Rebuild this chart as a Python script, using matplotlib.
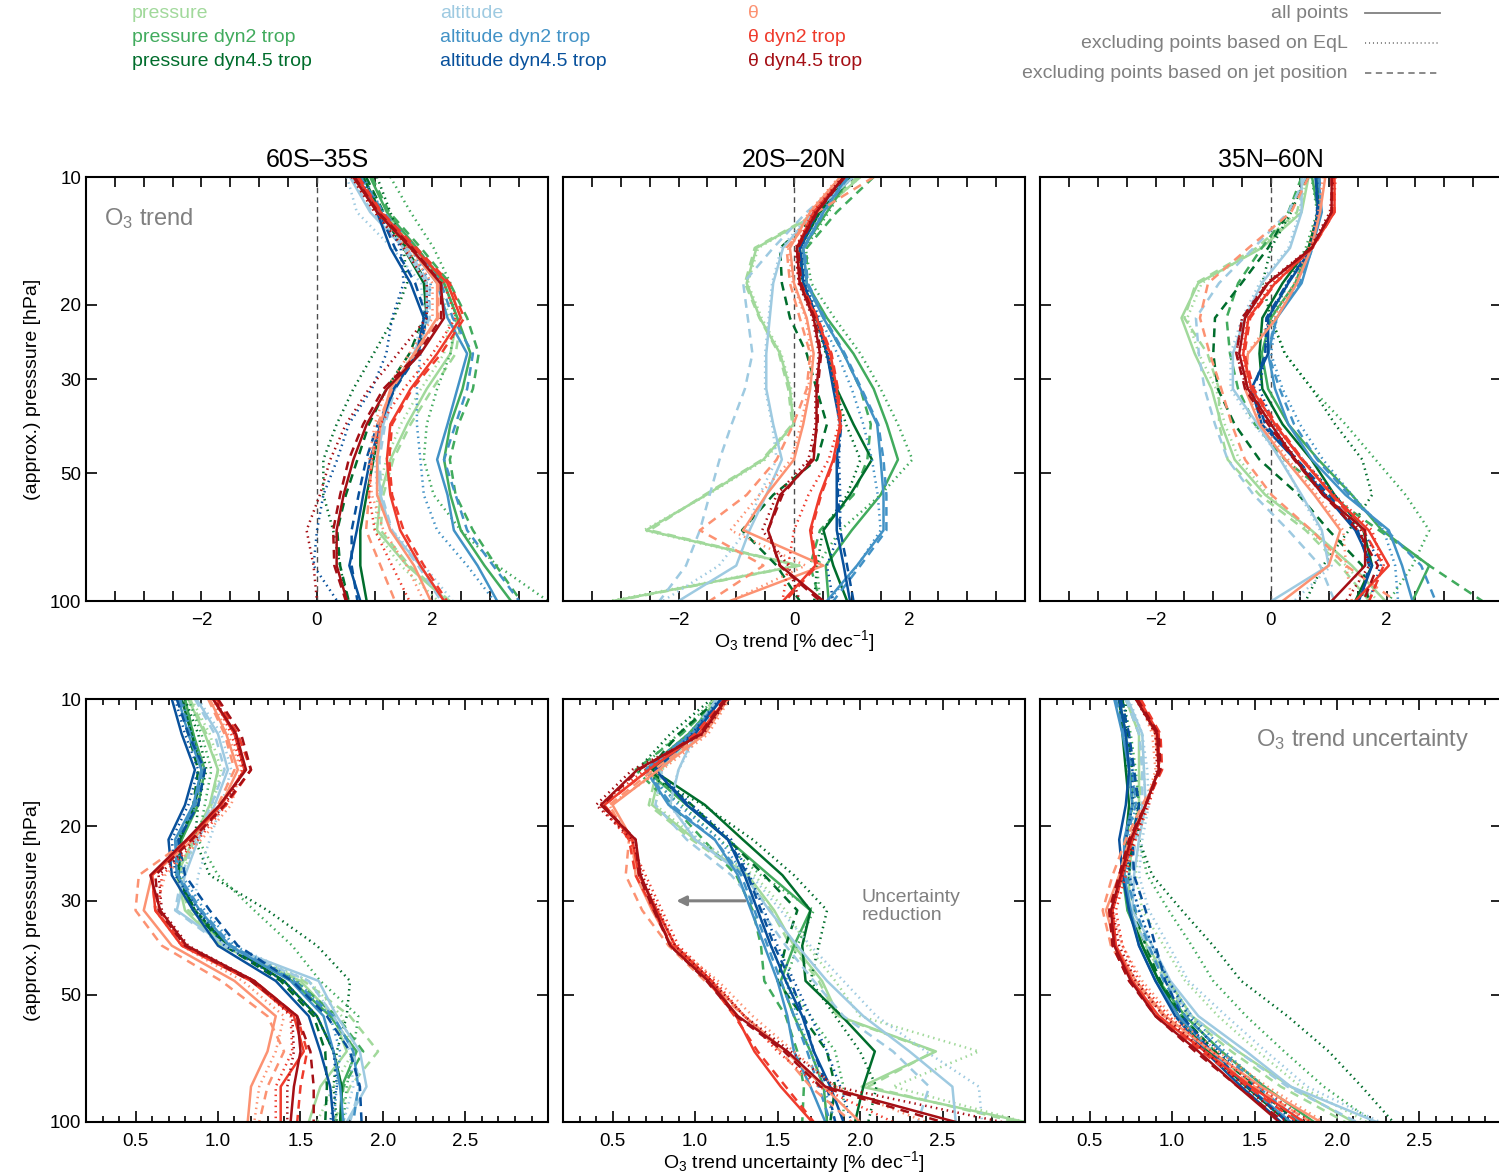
import numpy as np
import matplotlib.pyplot as plt
from matplotlib.lines import Line2D
from matplotlib.ticker import FixedLocator, MultipleLocator, NullLocator

plt.rcParams['font.family'] = ['Liberation Sans', 'DejaVu Sans']
plt.rcParams['mathtext.fontset'] = 'custom'
plt.rcParams['mathtext.rm'] = 'Liberation Sans'
plt.rcParams['mathtext.it'] = 'Liberation Sans:italic'
plt.rcParams['mathtext.bf'] = 'Liberation Sans:bold'

# approx. pressure levels [hPa]
pres = [10.0, 12.1, 14.7, 17.8, 21.5, 26.1, 31.6, 38.3, 46.4, 56.2, 68.1, 82.5, 100.0]

regions = ['60S\u201335S', '20S\u201320N', '35N\u201360N']
variables = ['p', 'p2', 'p45', 'z', 'z2', 'z45', 't', 't2', 't45']
var_labels = ['pressure', 'pressure dyn2 trop', 'pressure dyn4.5 trop',
              'altitude', 'altitude dyn2 trop', 'altitude dyn4.5 trop',
              '\u03b8', '\u03b8 dyn2 trop', '\u03b8 dyn4.5 trop']
var_colors = ['#a1d99b', '#41ab5d', '#006d2c',
              '#9ecae1', '#4292c6', '#08519c',
              '#fc9272', '#ef3b2c', '#a50f15']
styles = ['all', 'eql', 'jet']
style_labels = ['all points', 'excluding points based on EqL',
                'excluding points based on jet position']

# O3 trend [% dec-1], 60S-35S
trend_sh = {
    'p_all':   [0.80, 1.10, 1.68, 2.20, 2.43, 2.31, 1.90, 1.56, 1.27, 1.10, 1.04, 1.56, 2.26],
    'p_eql':   [0.75, 1.05, 1.60, 2.10, 2.30, 2.20, 1.80, 1.45, 1.20, 1.05, 1.00, 1.45, 2.10],
    'p_jet':   [0.85, 1.15, 1.72, 2.25, 2.50, 2.40, 2.00, 1.62, 1.32, 1.15, 1.10, 1.60, 2.30],
    'p2_all':  [0.92, 1.21, 1.73, 2.20, 2.43, 2.66, 2.52, 2.31, 2.20, 2.31, 2.49, 2.90, 3.36],
    'p2_eql':  [1.27, 1.62, 2.02, 2.31, 2.40, 2.31, 2.08, 1.90, 1.85, 2.02, 2.49, 3.12, 4.00],
    'p2_jet':  [0.95, 1.25, 1.80, 2.30, 2.60, 2.80, 2.70, 2.45, 2.30, 2.40, 2.70, 3.10, 3.53],
    'p45_all': [0.80, 1.10, 1.50, 1.85, 1.90, 1.73, 1.33, 1.10, 0.98, 0.86, 0.75, 0.75, 0.86],
    'p45_eql': [1.04, 1.27, 1.50, 1.56, 1.33, 0.98, 0.63, 0.34, 0.11, 0.11, 0.28, 0.40, 0.52],
    'p45_jet': [0.85, 1.15, 1.55, 1.90, 1.85, 1.60, 1.20, 0.90, 0.70, 0.50, 0.35, 0.40, 0.55],
    'z_all':   [0.57, 0.92, 1.50, 1.90, 1.90, 1.68, 1.33, 1.15, 1.04, 1.10, 1.27, 1.79, 2.20],
    'z_eql':   [0.52, 0.69, 1.30, 1.80, 1.85, 1.65, 1.30, 1.10, 1.00, 1.05, 1.30, 1.85, 2.35],
    'z_jet':   [0.60, 0.95, 1.55, 1.95, 1.95, 1.70, 1.35, 1.18, 1.08, 1.12, 1.30, 1.75, 2.15],
    'z2_all':  [0.69, 1.10, 1.62, 2.08, 2.26, 2.60, 2.43, 2.26, 2.08, 2.26, 2.37, 2.78, 3.12],
    'z2_eql':  [0.80, 1.15, 1.62, 1.97, 1.90, 1.79, 1.73, 1.73, 1.79, 1.85, 2.08, 2.60, 3.07],
    'z2_jet':  [0.75, 1.15, 1.70, 2.15, 2.35, 2.70, 2.60, 2.40, 2.20, 2.40, 2.60, 3.05, 3.50],
    'z45_all': [0.69, 1.04, 1.27, 1.62, 1.85, 1.73, 1.33, 1.10, 0.92, 0.80, 0.69, 0.56, 0.75],
    'z45_eql': [0.75, 1.10, 1.45, 1.50, 1.30, 1.20, 0.95, 0.55, 0.35, 0.11, 0.00, -0.06, 0.35],
    'z45_jet': [0.72, 1.08, 1.35, 1.70, 1.90, 1.75, 1.35, 1.05, 0.85, 0.72, 0.60, 0.60, 0.70],
    't_all':   [0.63, 1.04, 1.62, 2.08, 2.08, 1.68, 1.27, 1.10, 1.04, 1.04, 1.27, 1.68, 1.97],
    't_eql':   [0.60, 1.00, 1.55, 2.00, 2.00, 1.60, 1.20, 1.00, 0.90, 0.95, 1.15, 1.55, 1.85],
    't_jet':   [0.65, 1.05, 1.65, 2.10, 2.10, 1.70, 1.30, 1.05, 0.95, 0.90, 0.85, 1.10, 1.35],
    't2_all':  [0.69, 1.10, 1.68, 2.26, 2.49, 2.08, 1.62, 1.27, 1.21, 1.27, 1.44, 1.79, 2.20],
    't2_eql':  [0.65, 1.05, 1.60, 2.20, 2.40, 2.00, 1.50, 1.10, 0.95, 0.90, 1.00, 1.30, 1.60],
    't2_jet':  [0.72, 1.12, 1.72, 2.30, 2.55, 2.15, 1.65, 1.30, 1.25, 1.30, 1.50, 1.85, 2.25],
    't45_all': [0.63, 1.04, 1.62, 2.14, 2.20, 1.79, 1.21, 0.86, 0.63, 0.46, 0.34, 0.34, 0.52],
    't45_eql': [0.60, 1.00, 1.50, 1.90, 1.90, 1.40, 0.90, 0.50, 0.23, 0.05, -0.18, -0.06, 0.00],
    't45_jet': [0.65, 1.06, 1.65, 2.15, 2.15, 1.75, 1.15, 0.80, 0.55, 0.40, 0.28, 0.30, 0.50],
}

# O3 trend [% dec-1], 20S-20N
trend_tr = {
    'p_all':   [1.15, 0.45, -0.65, -0.82, -0.59, -0.24, -0.07, -0.01, -0.53, -1.52, -2.56, 0.08, -3.14],
    'p_eql':   [1.15, 0.45, -0.62, -0.80, -0.56, -0.22, -0.05, 0.00, -0.50, -1.50, -2.60, 0.05, -3.20],
    'p_jet':   [1.10, 0.42, -0.68, -0.85, -0.60, -0.26, -0.10, -0.03, -0.55, -1.55, -2.50, 0.10, -3.10],
    'p2_all':  [0.97, 0.57, 0.16, 0.22, 0.57, 1.03, 1.38, 1.61, 1.80, 1.50, 1.00, 0.55, 0.60],
    'p2_eql':  [0.98, 0.60, 0.20, 0.30, 0.70, 1.15, 1.50, 1.80, 2.05, 1.50, 0.80, 0.40, 0.45],
    'p2_jet':  [1.38, 0.74, 0.22, 0.22, 0.51, 0.86, 1.15, 1.33, 1.27, 1.03, 0.45, 0.28, 0.45],
    'p45_all': [0.92, 0.45, 0.10, 0.16, 0.39, 0.57, 0.74, 1.03, 1.35, 0.97, 0.51, 0.68, 0.92],
    'p45_eql': [0.90, 0.43, 0.08, 0.14, 0.37, 0.55, 0.72, 0.90, 1.15, 0.92, 0.50, 0.40, 0.35],
    'p45_jet': [1.00, 0.45, -0.24, -0.21, -0.07, 0.22, 0.39, 0.57, 0.40, -0.36, -0.90, -0.30, 0.10],
    'z_all':   [1.03, 0.34, -0.19, -0.36, -0.42, -0.48, -0.48, -0.36, -0.21, -0.48, -0.77, -1.00, -2.00],
    'z_eql':   [1.00, 0.30, -0.22, -0.38, -0.44, -0.50, -0.50, -0.38, -0.30, -0.60, -0.82, -1.30, -2.27],
    'z_jet':   [0.92, 0.22, -0.36, -0.88, -0.80, -0.72, -0.85, -1.08, -1.29, -1.46, -1.63, -1.87, -2.33],
    'z2_all':  [0.92, 0.51, 0.16, 0.22, 0.51, 0.86, 1.15, 1.44, 1.50, 1.55, 1.55, 1.09, 0.57],
    'z2_eql':  [0.90, 0.48, 0.14, 0.20, 0.45, 0.75, 1.00, 1.20, 1.35, 1.45, 1.50, 1.10, 0.60],
    'z2_jet':  [0.94, 0.52, 0.18, 0.24, 0.53, 0.88, 1.17, 1.46, 1.55, 1.60, 1.60, 1.15, 0.68],
    'z45_all': [0.86, 0.39, 0.10, 0.16, 0.39, 0.57, 0.68, 0.80, 0.74, 0.74, 0.74, 0.86, 0.97],
    'z45_eql': [0.86, 0.40, 0.12, 0.18, 0.42, 0.60, 0.72, 0.80, 0.78, 0.80, 0.80, 0.57, 0.68],
    'z45_jet': [0.87, 0.40, 0.11, 0.17, 0.40, 0.58, 0.70, 0.82, 0.76, 0.76, 0.80, 0.92, 1.03],
    't_all':   [0.80, 0.28, -0.07, 0.00, 0.22, 0.34, 0.28, 0.16, 0.00, -0.48, -0.88, 0.51, -1.11],
    't_eql':   [0.78, 0.26, -0.10, -0.02, 0.20, 0.30, 0.25, 0.12, -0.05, -0.60, -1.10, 0.20, -1.10],
    't_jet':   [1.38, 0.40, -0.13, -0.07, 0.10, 0.28, 0.22, -0.01, -0.30, -0.82, -1.63, -0.53, -1.46],
    't2_all':  [0.86, 0.34, 0.05, 0.10, 0.39, 0.63, 0.74, 0.80, 0.68, 0.45, 0.28, 0.37, -0.19],
    't2_eql':  [0.84, 0.32, 0.03, 0.08, 0.37, 0.60, 0.72, 0.78, 0.60, 0.25, 0.00, -0.10, -0.20],
    't2_jet':  [0.88, 0.36, 0.07, 0.12, 0.41, 0.65, 0.76, 0.82, 0.70, 0.47, 0.30, 0.40, -0.15],
    't45_all': [0.86, 0.39, 0.05, 0.10, 0.34, 0.45, 0.39, 0.39, 0.34, -0.24, -0.45, -0.24, 0.51],
    't45_eql': [0.84, 0.37, 0.03, 0.08, 0.32, 0.43, 0.37, 0.37, 0.25, -0.30, -0.55, -0.10, 0.10],
    't45_jet': [0.88, 0.40, 0.07, 0.12, 0.36, 0.47, 0.41, 0.41, 0.30, -0.20, -0.45, -0.25, 0.45],
}

# O3 trend [% dec-1], 35N-60N
trend_nh = {
    'p_all':   [0.65, 0.53, -0.16, -1.26, -1.55, -1.32, -1.03, -0.86, -0.63, -0.10, 0.70, 1.40, 1.98],
    'p_eql':   [0.62, 0.50, -0.20, -1.20, -1.45, -1.25, -0.95, -0.80, -0.55, -0.05, 0.65, 1.30, 1.85],
    'p_jet':   [0.60, 0.45, -0.25, -1.30, -1.50, -1.10, -0.90, -0.90, -0.75, -0.20, 0.60, 1.20, 1.70],
    'p2_all':  [0.71, 0.82, 0.65, 0.42, 0.00, -0.16, -0.05, 0.30, 0.82, 1.40, 1.92, 2.74, 2.45],
    'p2_eql':  [0.70, 0.80, 0.60, 0.30, 0.00, 0.24, 0.71, 1.29, 1.81, 2.33, 2.74, 2.45, 2.04],
    'p2_jet':  [0.53, 0.30, -0.16, -0.57, -0.77, -0.71, -0.57, -0.28, 0.24, 1.00, 1.87, 2.74, 3.66],
    'p45_all': [0.82, 0.82, 0.65, 0.20, -0.15, -0.20, -0.15, 0.20, 0.70, 1.10, 1.60, 1.75, 1.46],
    'p45_eql': [0.60, 0.35, 0.00, -0.15, 0.00, 0.24, 0.71, 1.11, 1.58, 1.75, 1.35, 0.90, 0.60],
    'p45_jet': [0.65, 0.30, -0.05, -0.51, -0.97, -1.00, -0.92, -0.63, -0.20, 0.48, 1.00, 1.58, 1.69],
    'z_all':   [0.53, 0.53, 0.33, -0.16, -0.45, -0.66, -0.66, -0.23, 0.16, 0.53, 0.88, 1.00, 0.01],
    'z_eql':   [0.55, 0.50, 0.30, -0.20, -0.50, -0.70, -0.70, -0.30, 0.20, 0.50, 0.85, 1.05, 0.40],
    'z_jet':   [0.60, 0.30, -0.30, -0.90, -1.30, -1.25, -1.15, -0.97, -0.75, -0.30, 0.30, 0.85, 1.10],
    'z2_all':  [0.82, 0.88, 0.71, 0.53, 0.10, -0.05, 0.07, 0.30, 0.71, 1.29, 2.04, 2.27, 2.45],
    'z2_eql':  [0.80, 0.85, 0.70, 0.45, 0.10, 0.00, 0.20, 0.50, 0.90, 1.40, 1.95, 2.15, 2.20],
    'z2_jet':  [0.84, 0.86, 0.72, 0.50, 0.08, -0.05, 0.15, 0.40, 0.80, 1.35, 2.00, 2.60, 2.85],
    'z45_all': [0.77, 0.82, 0.71, 0.30, -0.05, -0.05, -0.34, -0.16, 0.42, 0.94, 1.46, 1.75, 1.52],
    'z45_eql': [0.80, 0.80, 0.68, 0.28, -0.05, -0.10, -0.20, 0.05, 0.55, 1.10, 1.60, 1.90, 1.70],
    'z45_jet': [0.78, 0.80, 0.70, 0.28, -0.08, -0.10, -0.30, -0.10, 0.45, 1.00, 1.50, 1.70, 1.55],
    't_all':   [0.94, 0.85, 0.70, 0.45, 0.10, -0.40, -0.45, -0.20, 0.25, 0.75, 1.20, 1.00, 0.20],
    't_eql':   [0.90, 0.82, 0.65, 0.40, 0.05, -0.42, -0.45, -0.15, 0.30, 0.80, 1.25, 1.30, 1.40],
    't_jet':   [0.65, 0.35, -0.39, -1.09, -1.23, -1.06, -0.86, -0.68, -0.45, 0.01, 0.70, 1.30, 2.16],
    't2_all':  [1.10, 1.10, 0.71, 0.07, -0.39, -0.48, -0.34, 0.07, 0.53, 1.06, 1.69, 2.04, 1.46],
    't2_eql':  [1.12, 1.08, 0.68, 0.03, -0.40, -0.50, -0.36, 0.05, 0.55, 1.10, 1.75, 1.95, 1.70],
    't2_jet':  [1.08, 1.10, 0.72, 0.08, -0.36, -0.46, -0.30, 0.10, 0.55, 1.05, 1.60, 1.95, 1.70],
    't45_all': [1.05, 1.05, 0.71, -0.05, -0.45, -0.55, -0.40, 0.00, 0.42, 0.90, 1.63, 1.63, 1.05],
    't45_eql': [1.08, 1.02, 0.68, -0.08, -0.50, -0.60, -0.42, 0.00, 0.45, 0.95, 1.55, 1.70, 1.30],
    't45_jet': [1.05, 1.05, 0.70, -0.06, -0.50, -0.60, -0.45, -0.05, 0.40, 0.90, 1.50, 1.85, 1.60],
}

# O3 trend uncertainty [% dec-1], 60S-35S
unc_sh = {
    'p_all':   [0.82, 0.92, 1.00, 0.95, 0.85, 0.75, 0.80, 1.02, 1.50, 1.70, 1.78, 1.62, 1.55],
    'p_eql':   [0.84, 0.95, 1.02, 0.97, 0.87, 0.78, 0.84, 1.05, 1.55, 1.75, 1.82, 1.70, 1.60],
    'p_jet':   [0.83, 0.93, 1.00, 0.96, 0.86, 0.76, 0.82, 1.04, 1.52, 1.80, 1.97, 1.80, 1.70],
    'p2_all':  [0.80, 0.85, 0.92, 0.88, 0.78, 0.76, 0.85, 1.05, 1.45, 1.68, 1.84, 1.75, 1.75],
    'p2_eql':  [0.82, 0.90, 0.96, 0.92, 0.88, 1.00, 1.22, 1.45, 1.62, 1.85, 1.82, 1.78, 1.76],
    'p2_jet':  [0.80, 0.85, 0.90, 0.86, 0.78, 0.76, 0.86, 1.07, 1.47, 1.72, 1.88, 1.76, 1.74],
    'p45_all': [0.78, 0.84, 0.90, 0.86, 0.77, 0.76, 0.86, 1.06, 1.40, 1.60, 1.70, 1.75, 1.74],
    'p45_eql': [0.80, 0.88, 0.93, 0.88, 0.86, 0.95, 1.30, 1.60, 1.80, 1.78, 1.72, 1.70, 1.72],
    'p45_jet': [0.76, 0.82, 0.88, 0.85, 0.76, 0.75, 0.85, 1.04, 1.38, 1.58, 1.65, 1.66, 1.65],
    'z_all':   [0.87, 1.00, 1.06, 0.98, 0.88, 0.80, 0.75, 1.05, 1.61, 1.72, 1.86, 1.90, 1.78],
    'z_eql':   [0.88, 1.02, 1.08, 1.02, 0.95, 0.88, 0.85, 1.10, 1.55, 1.70, 1.80, 1.82, 1.76],
    'z_jet':   [0.86, 0.98, 1.04, 0.96, 0.86, 0.78, 0.74, 1.03, 1.55, 1.70, 1.82, 1.86, 1.80],
    'z2_all':  [0.76, 0.82, 0.90, 0.85, 0.74, 0.75, 0.89, 1.07, 1.44, 1.64, 1.70, 1.74, 1.76],
    'z2_eql':  [0.78, 0.84, 0.92, 0.87, 0.76, 0.78, 0.92, 1.10, 1.48, 1.68, 1.74, 1.72, 1.70],
    'z2_jet':  [0.77, 0.83, 0.91, 0.86, 0.75, 0.76, 0.90, 1.08, 1.46, 1.70, 1.82, 1.85, 1.82],
    'z45_all': [0.72, 0.78, 0.86, 0.80, 0.70, 0.72, 0.85, 1.00, 1.35, 1.55, 1.62, 1.68, 1.70],
    'z45_eql': [0.74, 0.80, 0.88, 0.82, 0.72, 0.74, 0.88, 1.04, 1.40, 1.60, 1.70, 1.72, 1.68],
    'z45_jet': [0.75, 0.82, 0.92, 0.88, 0.76, 0.80, 0.95, 1.12, 1.45, 1.66, 1.80, 1.86, 1.87],
    't_all':   [0.95, 1.05, 1.12, 1.02, 0.85, 0.60, 0.55, 0.72, 1.10, 1.35, 1.30, 1.20, 1.18],
    't_eql':   [0.96, 1.06, 1.14, 1.08, 0.90, 0.68, 0.62, 0.78, 1.15, 1.40, 1.35, 1.25, 1.22],
    't_jet':   [0.94, 1.04, 1.10, 1.00, 0.82, 0.52, 0.50, 0.66, 1.02, 1.30, 1.40, 1.30, 1.25],
    't2_all':  [0.97, 1.10, 1.16, 1.02, 0.82, 0.60, 0.62, 0.78, 1.20, 1.46, 1.52, 1.38, 1.38],
    't2_eql':  [0.98, 1.08, 1.15, 1.05, 0.88, 0.66, 0.64, 0.80, 1.22, 1.44, 1.45, 1.35, 1.35],
    't2_jet':  [0.99, 1.12, 1.20, 1.05, 0.84, 0.60, 0.62, 0.80, 1.22, 1.48, 1.54, 1.50, 1.48],
    't45_all': [0.97, 1.11, 1.17, 1.01, 0.81, 0.59, 0.65, 0.81, 1.22, 1.48, 1.50, 1.46, 1.44],
    't45_eql': [0.98, 1.10, 1.16, 1.04, 0.86, 0.64, 0.66, 0.82, 1.22, 1.45, 1.46, 1.42, 1.42],
    't45_jet': [1.00, 1.14, 1.20, 1.04, 0.84, 0.62, 0.64, 0.80, 1.20, 1.48, 1.56, 1.58, 1.58],
}

# O3 trend uncertainty [% dec-1], 20S-20N
unc_tr = {
    'p_all':   [1.12, 1.00, 0.79, 0.74, 1.00, 1.32, 1.48, 1.60, 1.77, 1.87, 2.46, 2.01, 3.00],
    'p_eql':   [1.13, 1.02, 0.80, 0.76, 1.02, 1.36, 1.55, 1.68, 1.85, 2.00, 2.72, 2.20, 3.00],
    'p_jet':   [1.11, 0.98, 0.77, 0.72, 0.98, 1.30, 1.46, 1.58, 1.75, 1.86, 2.45, 2.05, 2.95],
    'p2_all':  [1.15, 0.96, 0.70, 0.95, 1.20, 1.45, 1.70, 1.60, 1.52, 1.60, 1.70, 1.78, 1.80],
    'p2_eql':  [1.12, 0.90, 0.66, 0.92, 1.15, 1.40, 1.72, 1.62, 1.55, 1.70, 1.85, 1.90, 1.90],
    'p2_jet':  [1.14, 0.92, 0.64, 0.86, 1.05, 1.25, 1.35, 1.40, 1.42, 1.55, 1.62, 1.66, 1.65],
    'p45_all': [1.16, 0.98, 0.74, 1.06, 1.29, 1.53, 1.70, 1.65, 1.67, 1.89, 2.09, 2.02, 1.97],
    'p45_eql': [1.10, 0.85, 0.65, 1.05, 1.35, 1.60, 1.80, 1.75, 1.70, 1.85, 2.00, 2.10, 2.05],
    'p45_jet': [1.14, 0.90, 0.72, 0.98, 1.20, 1.42, 1.62, 1.55, 1.50, 1.65, 1.80, 1.85, 1.82],
    'z_all':   [1.14, 1.00, 0.90, 0.85, 1.00, 1.30, 1.45, 1.62, 1.80, 2.02, 2.30, 2.56, 2.58],
    'z_eql':   [1.15, 1.02, 0.90, 0.84, 1.02, 1.34, 1.52, 1.70, 1.90, 2.10, 2.40, 2.72, 2.74],
    'z_jet':   [1.13, 0.98, 0.80, 0.76, 0.95, 1.22, 1.40, 1.55, 1.72, 1.90, 2.20, 2.42, 2.35],
    'z2_all':  [1.16, 0.98, 0.70, 0.84, 1.12, 1.26, 1.34, 1.42, 1.50, 1.56, 1.60, 1.70, 1.79],
    'z2_eql':  [1.15, 0.96, 0.70, 0.90, 1.15, 1.30, 1.38, 1.46, 1.55, 1.62, 1.70, 1.78, 1.85],
    'z2_jet':  [1.16, 0.97, 0.70, 0.86, 1.12, 1.28, 1.36, 1.44, 1.52, 1.60, 1.68, 1.75, 1.82],
    'z45_all': [1.16, 1.00, 0.76, 0.95, 1.20, 1.30, 1.38, 1.46, 1.55, 1.65, 1.72, 1.82, 1.90],
    'z45_eql': [1.15, 0.98, 0.76, 0.98, 1.22, 1.33, 1.42, 1.50, 1.60, 1.70, 1.80, 1.88, 1.95],
    'z45_jet': [1.16, 0.99, 0.76, 0.96, 1.20, 1.32, 1.40, 1.48, 1.58, 1.66, 1.72, 1.80, 1.85],
    't_all':   [1.20, 1.06, 0.78, 0.50, 0.62, 0.64, 0.74, 0.86, 1.10, 1.30, 1.55, 1.78, 2.00],
    't_eql':   [1.21, 1.08, 0.80, 0.48, 0.60, 0.66, 0.78, 0.88, 1.14, 1.35, 1.60, 1.85, 2.40],
    't_jet':   [1.19, 1.05, 0.75, 0.48, 0.60, 0.58, 0.68, 0.84, 1.06, 1.30, 1.52, 1.70, 1.95],
    't2_all':  [1.19, 1.02, 0.72, 0.45, 0.62, 0.66, 0.77, 0.88, 1.10, 1.25, 1.36, 1.52, 1.71],
    't2_eql':  [1.20, 1.04, 0.70, 0.42, 0.60, 0.70, 0.80, 0.90, 1.12, 1.30, 1.50, 1.75, 2.20],
    't2_jet':  [1.18, 1.00, 0.72, 0.45, 0.60, 0.64, 0.75, 0.86, 1.08, 1.24, 1.38, 1.55, 1.72],
    't45_all': [1.19, 1.04, 0.65, 0.43, 0.64, 0.67, 0.76, 0.85, 1.08, 1.26, 1.56, 1.79, 2.58],
    't45_eql': [1.20, 1.05, 0.62, 0.40, 0.62, 0.68, 0.78, 0.88, 1.10, 1.30, 1.58, 1.85, 2.86],
    't45_jet': [1.18, 1.03, 0.66, 0.44, 0.64, 0.66, 0.75, 0.85, 1.07, 1.25, 1.54, 1.76, 2.50],
}

# O3 trend uncertainty [% dec-1], 35N-60N
unc_nh = {
    'p_all':   [0.72, 0.80, 0.80, 0.80, 0.76, 0.74, 0.74, 0.85, 0.98, 1.12, 1.40, 1.72, 2.10],
    'p_eql':   [0.73, 0.82, 0.83, 0.84, 0.80, 0.78, 0.82, 0.95, 1.08, 1.28, 1.52, 1.78, 2.18],
    'p_jet':   [0.72, 0.80, 0.82, 0.80, 0.75, 0.72, 0.73, 0.84, 0.96, 1.10, 1.36, 1.66, 2.05],
    'p2_all':  [0.68, 0.72, 0.74, 0.76, 0.72, 0.70, 0.73, 0.82, 0.92, 1.08, 1.30, 1.56, 1.86],
    'p2_eql':  [0.70, 0.75, 0.78, 0.80, 0.80, 0.85, 0.98, 1.12, 1.25, 1.45, 1.68, 1.92, 2.22],
    'p2_jet':  [0.68, 0.72, 0.75, 0.76, 0.72, 0.70, 0.74, 0.82, 0.92, 1.06, 1.26, 1.50, 1.78],
    'p45_all': [0.68, 0.70, 0.72, 0.74, 0.72, 0.71, 0.74, 0.82, 0.92, 1.04, 1.22, 1.45, 1.70],
    'p45_eql': [0.72, 0.72, 0.72, 0.78, 0.80, 0.88, 1.06, 1.25, 1.42, 1.70, 1.95, 2.15, 2.34],
    'p45_jet': [0.70, 0.73, 0.76, 0.80, 0.76, 0.74, 0.77, 0.84, 0.93, 1.06, 1.26, 1.50, 1.76],
    'z_all':   [0.73, 0.82, 0.83, 0.84, 0.80, 0.77, 0.76, 0.88, 0.99, 1.16, 1.45, 1.72, 2.24],
    'z_eql':   [0.74, 0.82, 0.85, 0.86, 0.82, 0.80, 0.86, 0.98, 1.10, 1.33, 1.57, 1.82, 2.26],
    'z_jet':   [0.72, 0.80, 0.82, 0.82, 0.78, 0.75, 0.74, 0.85, 0.96, 1.12, 1.40, 1.70, 2.12],
    'z2_all':  [0.65, 0.70, 0.74, 0.76, 0.71, 0.71, 0.75, 0.80, 0.90, 1.04, 1.24, 1.46, 1.72],
    'z2_eql':  [0.67, 0.72, 0.76, 0.78, 0.74, 0.74, 0.80, 0.88, 0.98, 1.12, 1.32, 1.55, 1.80],
    'z2_jet':  [0.66, 0.71, 0.76, 0.78, 0.72, 0.72, 0.78, 0.86, 0.95, 1.08, 1.30, 1.52, 1.78],
    'z45_all': [0.68, 0.72, 0.74, 0.72, 0.68, 0.70, 0.74, 0.80, 0.90, 1.02, 1.20, 1.42, 1.66],
    'z45_eql': [0.70, 0.74, 0.76, 0.76, 0.72, 0.74, 0.80, 0.88, 0.98, 1.10, 1.28, 1.50, 1.74],
    'z45_jet': [0.69, 0.74, 0.77, 0.80, 0.76, 0.77, 0.84, 0.90, 0.96, 1.06, 1.24, 1.46, 1.70],
    't_all':   [0.80, 0.90, 0.92, 0.84, 0.74, 0.68, 0.60, 0.66, 0.78, 0.96, 1.24, 1.54, 1.90],
    't_eql':   [0.80, 0.88, 0.90, 0.84, 0.76, 0.70, 0.64, 0.70, 0.82, 1.00, 1.28, 1.58, 1.92],
    't_jet':   [0.80, 0.90, 0.93, 0.82, 0.72, 0.64, 0.58, 0.63, 0.76, 0.95, 1.20, 1.50, 1.84],
    't2_all':  [0.80, 0.92, 0.92, 0.84, 0.76, 0.70, 0.64, 0.66, 0.76, 0.92, 1.20, 1.48, 1.80],
    't2_eql':  [0.79, 0.90, 0.92, 0.86, 0.78, 0.72, 0.66, 0.70, 0.80, 0.98, 1.24, 1.52, 1.84],
    't2_jet':  [0.81, 0.93, 0.94, 0.84, 0.74, 0.68, 0.62, 0.64, 0.74, 0.92, 1.18, 1.46, 1.76],
    't45_all': [0.78, 0.91, 0.92, 0.84, 0.75, 0.69, 0.63, 0.65, 0.75, 0.90, 1.16, 1.40, 1.65],
    't45_eql': [0.78, 0.90, 0.91, 0.85, 0.77, 0.70, 0.64, 0.68, 0.78, 0.95, 1.20, 1.44, 1.70],
    't45_jet': [0.79, 0.92, 0.93, 0.84, 0.74, 0.68, 0.62, 0.64, 0.74, 0.90, 1.14, 1.40, 1.68],
}

trend_panels = [trend_sh, trend_tr, trend_nh]
unc_panels = [unc_sh, unc_tr, unc_nh]

line_styles = {'all': '-', 'eql': (0, (0.6, 1.6)), 'jet': (0, (3.5, 2.5))}
gray = '#808080'

fig = plt.figure(figsize=(14.99, 11.73), dpi=100)
W, H = 1499.0, 1173.0
lefts = [86, 563, 1040]


def setup_axes(ax, col):
    ax.set_yscale('log')
    ax.set_ylim(100, 10)
    ax.yaxis.set_major_locator(FixedLocator([10, 20, 30, 50, 100]))
    ax.yaxis.set_minor_locator(NullLocator())
    if col == 0:
        ax.set_yticklabels(['10', '20', '30', '50', '100'])
        ax.set_ylabel('(approx.) presssure [hPa]', fontsize=14, labelpad=6)
    else:
        ax.set_yticklabels([])
    ax.tick_params(which='both', direction='in', top=True, right=True,
                   width=1.2, labelsize=13.5)
    ax.tick_params(axis='x', which='both', pad=8)
    for sp in ax.spines.values():
        sp.set_linewidth(1.5)


def draw_lines(ax, panel):
    for var, col in zip(variables, var_colors):
        for st in styles:
            ax.plot(panel[var + '_' + st], pres, color=col,
                    ls=line_styles[st], lw=1.8)


for col in range(3):
    # top row: trends
    ax = fig.add_axes([lefts[col] / W, 1 - 601 / H, 462 / W, 424 / H])
    ax.axvline(0, color='0.3', ls=(0, (4, 3)), lw=1.0)
    draw_lines(ax, trend_panels[col])
    ax.set_xlim(-4, 4)
    setup_axes(ax, col)
    ax.xaxis.set_major_locator(FixedLocator([-2, 0, 2]))
    ax.xaxis.set_minor_locator(MultipleLocator(0.5))
    ax.set_xticklabels(['\u22122', '0', '2'])
    ax.tick_params(which='both', length=7.5)
    ax.tick_params(axis='y', which='major', length=8)
    ax.set_title(regions[col], fontsize=18, pad=7)
    if col == 1:
        ax.set_xlabel(r'O$_3$ trend [% dec$^{-1}$]', fontsize=14, labelpad=-1)
    if col == 0:
        ax.text(0.039, 0.903, r'O$_3$ trend', transform=ax.transAxes,
                fontsize=17, color=gray, ha='left', va='center')

    # bottom row: uncertainties
    ax = fig.add_axes([lefts[col] / W, 1 - 1122 / H, 462 / W, 423 / H])
    draw_lines(ax, unc_panels[col])
    ax.set_xlim(0.2, 3.0)
    setup_axes(ax, col)
    ax.xaxis.set_major_locator(FixedLocator([0.5, 1.0, 1.5, 2.0, 2.5]))
    ax.xaxis.set_minor_locator(MultipleLocator(0.1))
    ax.set_xticklabels(['0.5', '1.0', '1.5', '2.0', '2.5'])
    ax.tick_params(which='major', length=8)
    ax.tick_params(which='minor', length=4.5)
    if col == 1:
        ax.set_xlabel(r'O$_3$ trend uncertainty [% dec$^{-1}$]', fontsize=14, labelpad=-1)
        ax.annotate('', xy=(0.87, 30), xytext=(1.32, 30),
                    arrowprops=dict(arrowstyle='-|>', color=gray, lw=2.2,
                                    mutation_scale=14))
        ax.text(2.01, 30.9, 'Uncertainty\nreduction', fontsize=14, color=gray,
                ha='left', va='center', linespacing=1.05)
    if col == 2:
        ax.text(0.928, 0.903, r'O$_3$ trend uncertainty', transform=ax.transAxes,
                fontsize=17, color=gray, ha='right', va='center')

# legend of the variables (coloured text)
col_x = [132, 440, 748]
row_y = [13, 37, 61]
for i, (lab, c) in enumerate(zip(var_labels, var_colors)):
    fig.text(col_x[i // 3] / W, 1 - row_y[i % 3] / H, lab, color=c,
             fontsize=14, ha='left', va='center')

# legend of the line styles
sty_y = [13, 43, 73]
for st, lab, y in zip(styles, style_labels, sty_y):
    fig.text(1348 / W, 1 - y / H, lab, color=gray, fontsize=14,
             ha='right', va='center')
    fig.add_artist(Line2D([1365 / W, 1440 / W], [1 - y / H, 1 - y / H],
                          color=gray, lw=1.3, ls=line_styles[st],
                          transform=fig.transFigure))

fig.savefig('out.png', dpi=100)
